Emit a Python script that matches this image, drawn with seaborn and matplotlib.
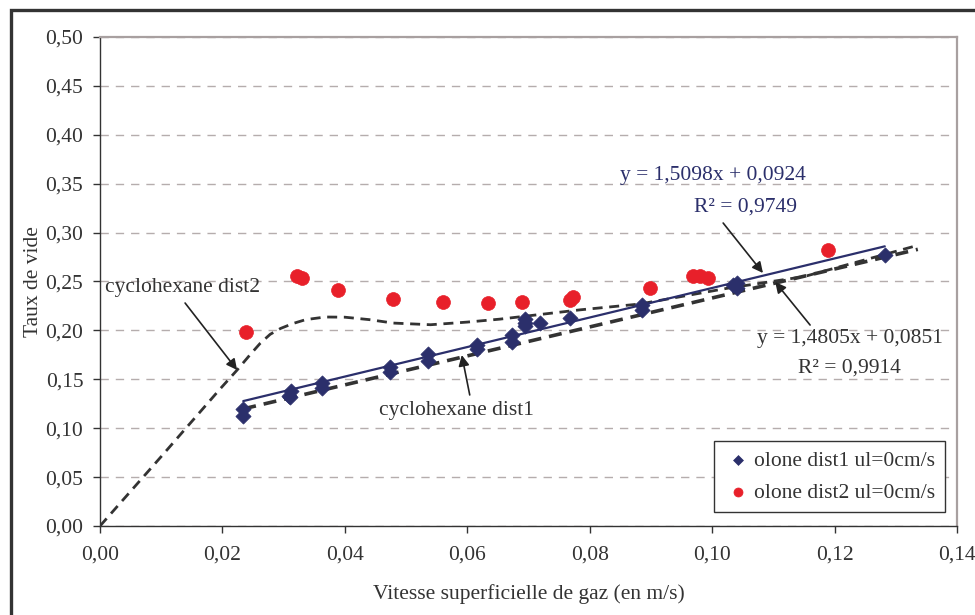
import matplotlib
matplotlib.use("Agg")
import matplotlib.pyplot as plt
from matplotlib.patches import Rectangle
from matplotlib.ticker import FuncFormatter, MultipleLocator
import seaborn as sns
import pandas as pd

# points "olone dist1" (diamonds)
x_dist1 = [0.0234, 0.0234, 0.0308, 0.0312, 0.0310, 0.0363, 0.0363, 0.0474, 0.0474,
           0.0536, 0.0536, 0.0616, 0.0616, 0.0673, 0.0673, 0.0694, 0.0694, 0.0694,
           0.0719, 0.0768, 0.0885, 0.0885, 0.1034, 0.1040, 0.1040, 0.1282]
y_dist1 = [0.120, 0.112, 0.133, 0.138, 0.132, 0.146, 0.141, 0.163, 0.157,
           0.176, 0.169, 0.185, 0.181, 0.195, 0.188, 0.212, 0.208, 0.205,
           0.208, 0.213, 0.226, 0.221, 0.246, 0.243, 0.248, 0.277]

# points "olone dist2" (circles)
x_dist2 = [0.0239, 0.0322, 0.0330, 0.0389, 0.0479, 0.0560, 0.0634, 0.0689,
           0.0768, 0.0773, 0.0899, 0.0968, 0.0980, 0.0993, 0.1189]
y_dist2 = [0.198, 0.256, 0.254, 0.241, 0.232, 0.229, 0.228, 0.229,
           0.231, 0.234, 0.243, 0.256, 0.256, 0.254, 0.282]

# cyclohexane dist2 curve
x_cyc2 = [0.0, 0.0100, 0.0196, 0.0224, 0.0245, 0.0262, 0.0278, 0.0295, 0.0315,
          0.0336, 0.0368, 0.0400, 0.0440, 0.0479, 0.0540, 0.0600, 0.0653, 0.0784,
          0.0882, 0.1024, 0.1150, 0.1336]
y_cyc2 = [0.0, 0.071, 0.140, 0.1595, 0.175, 0.187, 0.196, 0.202, 0.207,
          0.211, 0.2137, 0.2135, 0.211, 0.2075, 0.2058, 0.2085, 0.2115, 0.221,
          0.227, 0.243, 0.255, 0.287]

# trend lines: slope, intercept, x range
fit1_coef = [1.5098, 0.0924]
fit1_x = [0.0234, 0.1282]
fit2_coef = [1.4805, 0.0851]
fit2_x = [0.0234, 0.1336]

NAVY = "#2B2F6B"
RED = "#E8202A"
DARK = "#333333"
FS = 15.5

sns.set_theme(style="white")
plt.rcParams["font.family"] = ["Liberation Serif", "DejaVu Serif"]
plt.rcParams["text.color"] = DARK

fig = plt.figure(figsize=(9.75, 6.15), dpi=100)
ax = fig.add_axes([100 / 975, 1 - 526 / 615, 857 / 975, 489 / 615])

df1 = pd.DataFrame({"x": x_dist1, "y": y_dist1})
df2 = pd.DataFrame({"x": x_dist2, "y": y_dist2})

# lines
ax.plot(x_cyc2, y_cyc2, color=DARK, lw=2.0, dashes=(3.6, 2.4), zorder=2)
ax.plot(fit2_x, [fit2_coef[0] * v + fit2_coef[1] for v in fit2_x],
        color=DARK, lw=2.6, dashes=(3.6, 2.2), zorder=2)
ax.plot(fit1_x, [fit1_coef[0] * v + fit1_coef[1] for v in fit1_x],
        color=NAVY, lw=1.6, zorder=3)

sns.scatterplot(data=df1, x="x", y="y", marker="D", s=60, color=NAVY,
                edgecolor=NAVY, linewidth=0.5, ax=ax, zorder=4,
                label="olone dist1 ul=0cm/s")
sns.scatterplot(data=df2, x="x", y="y", marker="o", s=100, color=RED,
                edgecolor=RED, linewidth=0.5, ax=ax, zorder=4,
                label="olone dist2 ul=0cm/s")

ax.set_xlim(0, 0.14)
ax.set_ylim(0, 0.50)
ax.xaxis.set_major_locator(MultipleLocator(0.02))
ax.yaxis.set_major_locator(MultipleLocator(0.05))
fmt = FuncFormatter(lambda v, p: f"{v:.2f}".replace(".", ","))
ax.xaxis.set_major_formatter(fmt)
ax.yaxis.set_major_formatter(fmt)
ax.tick_params(axis="both", labelsize=FS, colors=DARK, length=5, width=1,
               direction="out", left=True, bottom=True)
ax.tick_params(axis="x", pad=9)
ax.tick_params(axis="y", pad=7)

ax.yaxis.grid(True, color="#B5ADAD", lw=1, dashes=(6, 5))
ax.xaxis.grid(False)
for s in ["left", "bottom"]:
    ax.spines[s].set_color(DARK)
    ax.spines[s].set_linewidth(1.0)
for s in ["top", "right"]:
    ax.spines[s].set_color("#A8A0A0")
    ax.spines[s].set_linewidth(1.6)

ax.set_xlabel("Vitesse superficielle de gaz (en m/s)", fontsize=FS, color=DARK)
ax.set_ylabel("Taux de vide", fontsize=FS, color=DARK)
ax.xaxis.set_label_coords(0.5, -0.118)
ax.yaxis.set_label_coords(-0.067, 0.5)

arrow = dict(arrowstyle="-|>", color="#222222", lw=1.2, mutation_scale=16,
             shrinkA=0, shrinkB=0)
ax.text(0.0134, 0.2434, "cyclohexane dist2", fontsize=FS, ha="center", va="center")
ax.annotate("", xy=(0.0224, 0.1595), xytext=(0.0139, 0.228), arrowprops=arrow)
ax.text(0.0583, 0.1186, "cyclohexane dist1", fontsize=FS, ha="center", va="center")
ax.annotate("", xy=(0.0591, 0.1748), xytext=(0.0604, 0.134), arrowprops=arrow)

ax.text(0.1001, 0.358, "y = 1,5098x + 0,0924", fontsize=FS, color=NAVY,
        ha="center", va="center")
ax.text(0.1054, 0.326, "R² = 0,9749", fontsize=FS, color=NAVY,
        ha="center", va="center")
ax.annotate("", xy=(0.1083, 0.2587), xytext=(0.1018, 0.3098), arrowprops=arrow)

ax.text(0.1225, 0.1922, "y = 1,4805x + 0,0851", fontsize=FS, ha="center", va="center")
ax.text(0.1225, 0.1616, "R² = 0,9914", fontsize=FS, ha="center", va="center")
ax.annotate("", xy=(0.1103, 0.2495), xytext=(0.1160, 0.2055), arrowprops=arrow)

leg = ax.legend(loc="upper right", bbox_to_anchor=(0.986, 0.174), fontsize=FS,
                frameon=True, fancybox=False, shadow=False, framealpha=1,
                borderpad=0.45, handletextpad=0.1, labelspacing=0.55,
                handlelength=1.3, markerscale=0.65, borderaxespad=0)
leg.get_frame().set_edgecolor(DARK)
leg.get_frame().set_linewidth(1.0)

# thick outer frame (left and top visible)
fig.patches.append(Rectangle((11 / 975, -0.2), 1.5, 1.2 - 10 / 615,
                             transform=fig.transFigure, fill=False,
                             edgecolor=DARK, lw=2.4, zorder=0))

fig.savefig("out.png", dpi=100)
